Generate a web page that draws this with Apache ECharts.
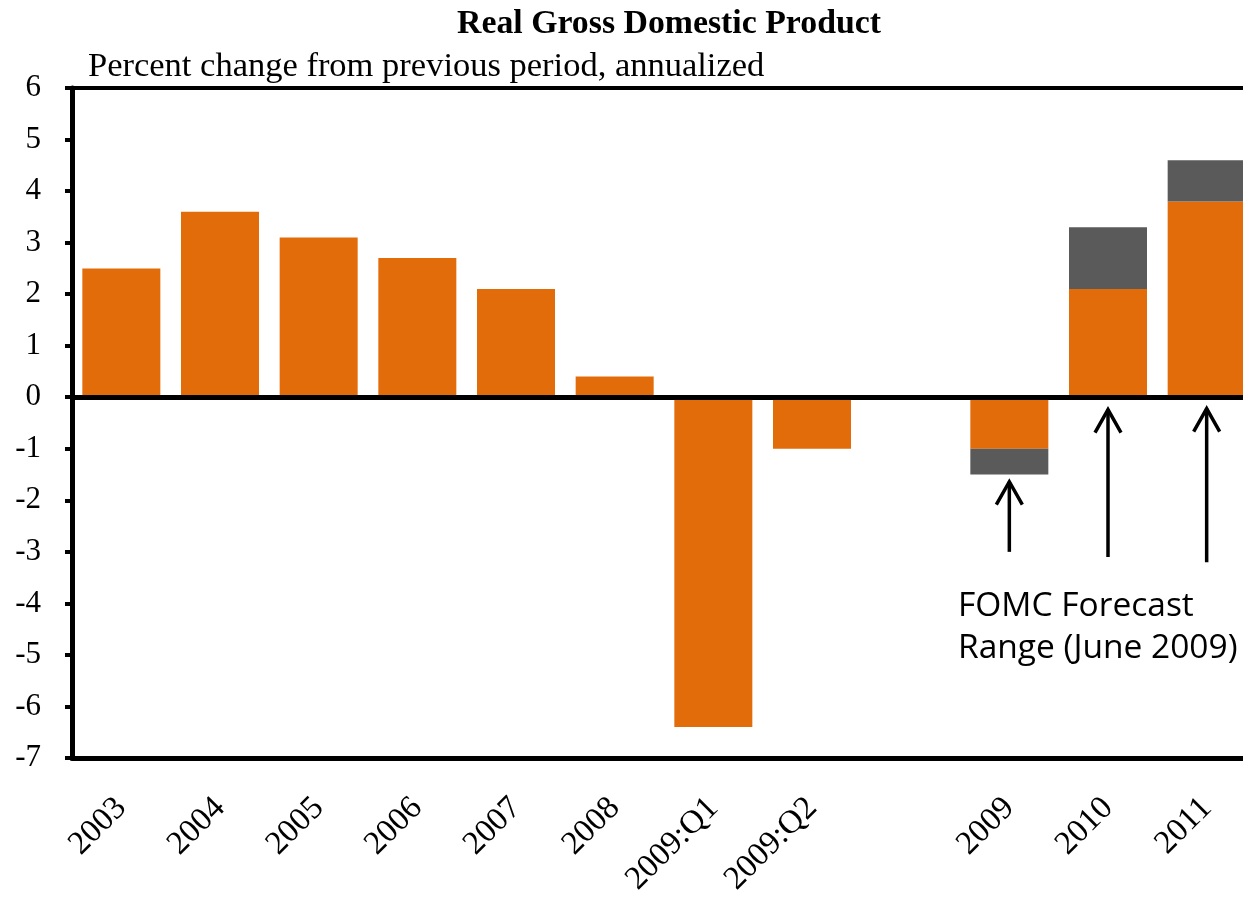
<!DOCTYPE html>
<html>
<head>
<meta charset="utf-8">
<script src="https://cdn.jsdelivr.net/npm/echarts@6/dist/echarts.min.js"></script>
<style>
html,body{margin:0;padding:0;background:#fff;}
#chart{width:1243px;height:899px;}
</style>
</head>
<body>
<div id="chart"></div>
<script>
// ---- data ----
var categories = ['2003','2004','2005','2006','2007','2008','2009:Q1','2009:Q2','','2009','2010','2011'];
var actualOrLow = [2.5, 3.6, 3.1, 2.7, 2.1, 0.4, -6.4, -1.0, null, -1.0, 2.1, 3.8];
var forecastHigh = [null, null, null, null, null, null, null, null, null, -1.5, 3.3, 4.6];
var yTicks = [-7,-6,-5,-4,-3,-2,-1,0,1,2,3,4,5,6];
var arrowCats = ['2009','2010','2011'];
var arrowTail = [-3.0, -3.1, -3.2];
var arrowTip = [-1.62, -0.22, -0.2];

var ORANGE = '#E36C0A';
var GRAY = '#5A5A5A';
var SERIF = '"Liberation Serif", "Times New Roman", serif';

// range part of forecast bars, stacked on top of the low value
var rangePart = forecastHigh.map(function (h, i) {
  if (h == null || actualOrLow[i] == null) return null;
  return +(h - actualOrLow[i]).toFixed(2);
});

var chart = echarts.init(document.getElementById('chart'), null, {renderer: 'canvas'});

var option = {
  animation: false,
  backgroundColor: '#fff',
  title: [{
    text: 'Percent change from previous period, annualized',
    left: 83,
    top: 44,
    textStyle: {fontFamily: SERIF, fontWeight: 'normal', fontSize: 34.5, color: '#000'}
  }],
  grid: {left: 72, top: 88, width: 1184, height: 670, containLabel: false, outerBoundsMode: 'none'},
  xAxis: [{
    type: 'category',
    data: categories,
    position: 'bottom',
    axisLine: {onZero: false, lineStyle: {color: '#000', width: 5}},
    axisTick: {show: false},
    axisLabel: {
      interval: 0, rotate: 45, margin: 45,
      fontFamily: SERIF, fontSize: 33, color: '#000'
    },
    splitLine: {show: false}
  }, {
    type: 'category',
    data: categories,
    position: 'top',
    axisLine: {onZero: false, lineStyle: {color: '#000', width: 4}},
    axisTick: {show: false},
    axisLabel: {show: false},
    splitLine: {show: false}
  }],
  yAxis: {
    type: 'value',
    min: yTicks[0],
    max: yTicks[yTicks.length - 1],
    interval: 1,
    axisLine: {show: true, lineStyle: {color: '#000', width: 5}},
    axisTick: {show: true, length: 7, lineStyle: {color: '#000', width: 4}},
    axisLabel: {margin: 31, fontFamily: SERIF, fontSize: 31, color: '#000'},
    splitLine: {show: false}
  },
  series: [{
    name: 'Actual / forecast low',
    type: 'bar',
    stack: 'gdp',
    barWidth: 78,
    data: actualOrLow,
    itemStyle: {color: ORANGE},
    markLine: {
      silent: true,
      symbol: ['none', 'none'],
      label: {show: false},
      lineStyle: {color: '#000', width: 5, type: 'solid'},
      data: [{yAxis: 0}],
      z: 10
    }
  }, {
    name: 'Forecast range',
    type: 'bar',
    stack: 'gdp',
    barWidth: 78,
    data: rangePart,
    itemStyle: {color: GRAY}
  }]
};
chart.setOption(option);

// arrows + annotation text, positioned through the chart's own scales
var graphics = [];
graphics.push({
  type: 'text', z: 20, x: 669, y: 24,
  style: {
    text: 'Real Gross Domestic Product',
    font: 'bold 33.8px ' + SERIF,
    fill: '#000',
    align: 'center',
    verticalAlign: 'middle'
  }
});
arrowCats.forEach(function (c, i) {
  var tail = chart.convertToPixel({xAxisIndex: 0, yAxisIndex: 0}, [c, arrowTail[i]]);
  var tip = chart.convertToPixel({xAxisIndex: 0, yAxisIndex: 0}, [c, arrowTip[i]]);
  var x = tip[0];
  graphics.push({
    type: 'line', z: 20,
    shape: {x1: x, y1: tail[1], x2: x, y2: tip[1] + 1},
    style: {stroke: '#000', lineWidth: 3.5}
  });
  graphics.push({
    type: 'polyline', z: 20,
    shape: {points: [[x - 13, tip[1] + 24], [x, tip[1] + 1], [x + 13, tip[1] + 24]]},
    style: {stroke: '#000', lineWidth: 3.5, fill: null}
  });
});
graphics.push({
  type: 'text', z: 20, left: 958, top: 585,
  style: {
    text: 'FOMC Forecast\nRange (June 2009)',
    font: '33.5px "Open Sans", Lato, sans-serif',
    fill: '#000',
    lineHeight: 42
  }
});
chart.setOption({graphic: graphics});
</script>
</body>
</html>
